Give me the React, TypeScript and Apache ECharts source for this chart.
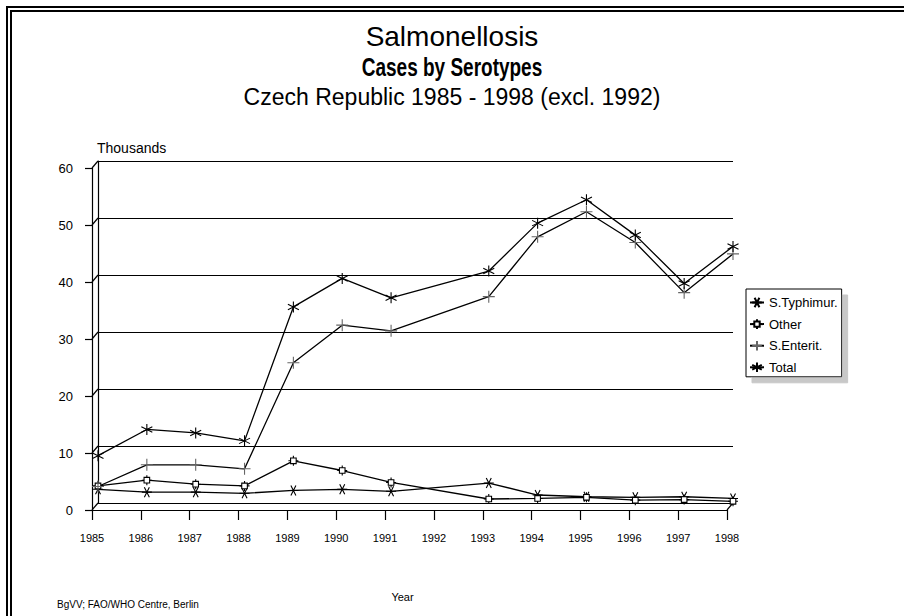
import React, { useEffect, useRef } from "react";
import * as echarts from "echarts";

const FONT = "'Liberation Sans', Arial, sans-serif";

const years = [1985, 1986, 1987, 1988, 1989, 1990, 1991, 1993, 1994, 1995, 1996, 1997, 1998];
const typhimurium = [2.4, 1.9, 1.9, 1.7, 2.2, 2.4, 2.05, 3.5, 1.4, 1.1, 1.0, 1.1, 0.8];
const other = [3.0, 4.0, 3.3, 3.0, 7.4, 5.7, 3.6, 0.7, 0.8, 1.0, 0.5, 0.6, 0.3];
const enteritidis = [2.9, 6.7, 6.7, 6.0, 24.6, 31.2, 30.2, 36.2, 46.7, 51.1, 45.7, 36.9, 43.7];
const total = [8.3, 12.9, 12.3, 10.9, 34.4, 39.4, 36.0, 40.7, 49.1, 53.2, 47.0, 38.5, 45.0];
const seriesNames = ["S.Typhimur.", "Other", "S.Enterit.", "Total"];
const yTicks = [0, 10, 20, 30, 40, 50, 60];

const SYM_TYPH = "path://M0 5 L10 5 M2.5 0.7 L7.5 9.3 M2.5 9.3 L7.5 0.7";
const SYM_OTHER = "path://M2.2 2.2 L7.8 2.2 L7.8 7.8 L2.2 7.8 Z M5 0 L5 2.2 M5 7.8 L5 10 M0 5 L2.2 5 M7.8 5 L10 5";
const SYM_PLUS = "path://M5 0 L5 10 M0 5 L10 5";
const SYM_TOTAL = "path://M5 0 L5 10 M0.7 2.5 L9.3 7.5 M0.7 7.5 L9.3 2.5";

const pairs = (vals: number[]) => years.map((y, i) => [y, vals[i]]);

export default function App() {
  const ref = useRef<HTMLDivElement>(null);
  useEffect(() => {
    if (!ref.current) return;
    const chart = echarts.init(ref.current, null, { renderer: "svg" });
    const axisLine = { show: true, lineStyle: { color: "#000", width: 1.2 } };
    const mkLine = (name: string, vals: number[], symbol: string, stroke: string, size: number) => ({
      type: "line",
      name,
      xAxisIndex: 0,
      yAxisIndex: 0,
      data: pairs(vals),
      symbol,
      symbolSize: size,
      showSymbol: true,
      lineStyle: { color: "#000", width: 1.3 },
      itemStyle: { color: "#fff", borderColor: stroke, borderWidth: 1.1 },
      z: 5,
    });
    chart.setOption({
      animation: false,
      backgroundColor: "#fff",
      textStyle: { fontFamily: FONT, color: "#000" },
      title: [
        { text: "Salmonellosis", left: "center", top: 17, textStyle: { fontFamily: FONT, fontSize: 28, fontWeight: "normal", color: "#000" } },
        { text: "Czech Republic 1985 - 1998 (excl. 1992)", left: "center", top: 80, textStyle: { fontFamily: FONT, fontSize: 23, fontWeight: "normal", color: "#000" } },
        { text: "BgVV; FAO/WHO Centre, Berlin", left: 52, top: 594, textStyle: { fontFamily: FONT, fontSize: 10, fontWeight: "normal", color: "#000" } },
      ],
      grid: [
        { left: 98, top: 161, right: 171, bottom: 113 },
        { left: 92, top: 168, right: 177, bottom: 106 },
      ],
      xAxis: [
        {
          gridIndex: 0, type: "value", min: 1985, max: 1998, interval: 1,
          axisLine, axisTick: { show: false }, axisLabel: { show: false }, splitLine: { show: false },
        },
        {
          gridIndex: 1, type: "value", min: 1985, max: 1998, interval: 1,
          axisLine, axisTick: { show: true, length: 10, lineStyle: { color: "#000", width: 1.2 } },
          axisLabel: { margin: 22, fontSize: 11, color: "#000", fontFamily: FONT, formatter: (v: number) => String(v) },
          splitLine: { show: false },
          name: "Year", nameLocation: "middle", nameGap: 81,
          nameTextStyle: { fontSize: 11, color: "#000", fontFamily: FONT, padding: [0, 14, 0, 0] },
        },
      ],
      yAxis: [
        {
          gridIndex: 0, type: "value", min: 0, max: 60, interval: 10,
          axisLine, axisTick: { show: false }, axisLabel: { show: false },
          splitLine: { show: true, lineStyle: { color: "#000", width: 1.2 } },
        },
        {
          gridIndex: 1, type: "value", min: 0, max: 60, interval: 10,
          axisLine, axisTick: { show: true, length: 7, lineStyle: { color: "#000", width: 1.2 } },
          axisLabel: { margin: 19, fontSize: 13, color: "#000", fontFamily: FONT },
          splitLine: { show: false },
          name: "Thousands", nameLocation: "end", nameGap: 13,
          nameTextStyle: { fontSize: 14, color: "#000", fontFamily: FONT, align: "left", padding: [0, 0, 0, 5] },
        },
      ],
      legend: {
        data: seriesNames,
        orient: "vertical",
        left: 746,
        top: 289,
        backgroundColor: "#fff",
        borderColor: "#000",
        borderWidth: 1,
        padding: [7, 4, 3, 3],
        itemGap: 8.6,
        itemWidth: 14,
        itemHeight: 12,
        textStyle: { fontSize: 13, color: "#000", fontFamily: FONT },
        shadowColor: "#c8c8c8",
        shadowBlur: 0,
        shadowOffsetX: 6,
        shadowOffsetY: 6,
      },
      graphic: [
        { type: "rect", shape: { x: 7, y: 7, width: 1200, height: 1200 }, style: { fill: "none", stroke: "#000", lineWidth: 2 } },
        { type: "rect", shape: { x: 11, y: 11, width: 1200, height: 1200 }, style: { fill: "none", stroke: "#000", lineWidth: 2 } },
        {
          type: "text",
          x: 452,
          y: 68,
          scaleX: 0.76,
          style: {
            text: "Cases by Serotypes",
            fill: "#000",
            font: `bold 25px ${FONT}`,
            textAlign: "center",
            textVerticalAlign: "middle",
          },
        },
      ],
      series: [
        {
          type: "custom",
          name: "depth",
          xAxisIndex: 0,
          yAxisIndex: 0,
          clip: false,
          silent: true,
          data: [...yTicks.map((v) => [years[0], v]), [years[years.length - 1], 0]],
          renderItem: (params: any, api: any) => {
            const p = api.coord([api.value(0), api.value(1)]);
            return {
              type: "line",
              shape: { x1: p[0], y1: p[1], x2: p[0] - 6, y2: p[1] + 7 },
              style: { stroke: "#000", lineWidth: 1.2 },
            };
          },
          z: 1,
        },
        mkLine("S.Typhimur.", typhimurium, SYM_TYPH, "#000", 10),
        mkLine("Other", other, SYM_OTHER, "#000", 10),
        mkLine("S.Enterit.", enteritidis, SYM_PLUS, "#666", 12),
        mkLine("Total", total, SYM_TOTAL, "#000", 11),
      ],
    });
    return () => chart.dispose();
  }, []);
  return <div ref={ref} style={{ position: "absolute", left: 0, top: 0, width: 904, height: 616 }} />;
}
